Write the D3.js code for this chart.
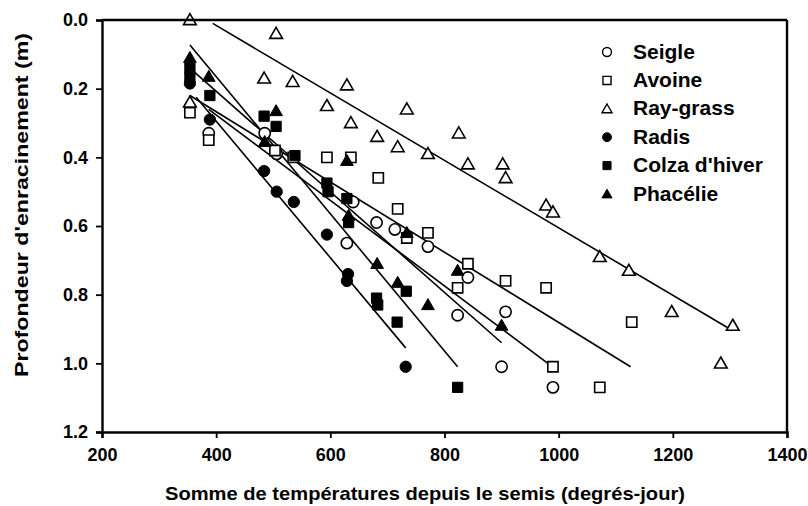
<!DOCTYPE html>
<html>
<head>
<meta charset="utf-8">
<script src="https://cdn.jsdelivr.net/npm/d3@7"></script>
<style>
  html, body { margin: 0; padding: 0; background: #fff; }
  svg { display: block; }
  text { font-family: "Liberation Sans", Arial, sans-serif; font-weight: bold; fill: #000; }
</style>
</head>
<body>
<svg id="chart" width="808" height="506"></svg>
<script>
// Root depth (m) against thermal time since sowing (degree-days)
const tempTicks  = [200, 400, 600, 800, 1000, 1200, 1400];
const depthTicks = [0.0, 0.2, 0.4, 0.6, 0.8, 1.0, 1.2];

const speciesNames = ["Seigle", "Avoine", "Ray-grass", "Radis", "Colza d'hiver", "Phacélie"];

// [degree-days, depth in m]
const seigle = [[387,0.33],[485,0.33],[506,0.39],[640,0.53],[629,0.65],[681,0.59],[713,0.61],
                [771,0.66],[841,0.75],[823,0.86],[907,0.85],[900,1.01],[990,1.07]];
const avoine = [[354,0.27],[387,0.35],[503,0.38],[535,0.40],[594,0.40],[636,0.40],[684,0.46],
                [718,0.55],[734,0.635],[771,0.62],[841,0.71],[823,0.78],[907,0.76],[978,0.78],
                [990,1.01],[1072,1.07],[1128,0.88]];
const raygrass = [[354,0.0],[354,0.24],[505,0.04],[484,0.17],[534,0.18],[629,0.19],[594,0.25],
                  [636,0.30],[682,0.34],[734,0.26],[825,0.33],[718,0.37],[771,0.39],[841,0.42],
                  [902,0.42],[907,0.46],[978,0.54],[990,0.56],[1072,0.69],[1123,0.73],
                  [1198,0.85],[1305,0.89],[1284,1.00]];
const radis = [[354,0.185],[389,0.29],[484,0.44],[506,0.50],[536,0.53],[594,0.625],[631,0.74],
               [629,0.76],[732,1.01]];
const colza = [[354,0.14],[354,0.165],[389,0.22],[484,0.28],[505,0.31],[538,0.395],[594,0.475],
               [596,0.50],[629,0.52],[632,0.59],[681,0.81],[683,0.83],[733,0.79],[717,0.88],
               [823,1.07]];
const phacelie = [[354,0.11],[387,0.165],[505,0.265],[485,0.355],[629,0.41],[632,0.57],[682,0.71],
                  [734,0.62],[718,0.765],[771,0.83],[823,0.73],[900,0.89]];

// fitted lines: [[start degree-days, depth], [end degree-days, depth]]
const seigleFit   = [[387,0.26],[981,1.00]];
const avoineFit   = [[354,0.22],[1126,1.01]];
const raygrassFit = [[394,0.01],[1300,0.90]];
const radisFit    = [[365,0.225],[732,0.955]];
const colzaFit    = [[354,0.073],[823,1.01]];
const phacelieFit = [[354,0.14],[900,0.94]];

const svg = d3.select("#chart");
const plotLeft = 102, plotRight = 787, plotTop = 20, plotBottom = 432;

const x = d3.scaleLinear().domain([200, 1400]).range([plotLeft, plotRight]);
const y = d3.scaleLinear().domain([0, 1.2]).range([plotTop, plotBottom]);

const series = [
  { name: speciesNames[0], pts: seigle,   fit: seigleFit,   shape: d3.symbolCircle,   filled: false },
  { name: speciesNames[1], pts: avoine,   fit: avoineFit,   shape: d3.symbolSquare,   filled: false },
  { name: speciesNames[2], pts: raygrass, fit: raygrassFit, shape: d3.symbolTriangle, filled: false },
  { name: speciesNames[3], pts: radis,    fit: radisFit,    shape: d3.symbolCircle,   filled: true },
  { name: speciesNames[4], pts: colza,    fit: colzaFit,    shape: d3.symbolSquare,   filled: true },
  { name: speciesNames[5], pts: phacelie, fit: phacelieFit, shape: d3.symbolTriangle, filled: true }
];

const markSize = { circle: 100, square: 105, triangle: 70 };
function sizeFor(shape, k) {
  const base = shape === d3.symbolCircle ? markSize.circle
             : shape === d3.symbolSquare ? markSize.square : markSize.triangle;
  return base * k;
}

// fitted lines
const line = d3.line().x(d => x(d[0])).y(d => y(d[1]));
svg.append("g").selectAll("path").data(series).join("path")
  .attr("d", s => line(s.fit))
  .attr("fill", "none").attr("stroke", "#000").attr("stroke-width", 1.6);

// markers
series.forEach(s => {
  svg.append("g").selectAll("path").data(s.pts).join("path")
    .attr("transform", d => `translate(${x(d[0])},${y(d[1]) + (s.shape === d3.symbolTriangle ? 1 : 0)})`)
    .attr("d", d3.symbol().type(s.shape).size(sizeFor(s.shape, 1)))
    .attr("fill", s.filled ? "#000" : "#fff")
    .attr("stroke", "#000")
    .attr("stroke-width", s.filled ? 1 : 1.6);
});

// axes
const xAxis = d3.axisBottom(x).tickValues(tempTicks).tickSize(6).tickPadding(6).tickFormat(d3.format("d"));
const yAxis = d3.axisLeft(y).tickValues(depthTicks).tickSize(6).tickPadding(8).tickFormat(d3.format(".1f"));

const gx = svg.append("g").attr("transform", `translate(0,${plotBottom})`).call(xAxis);
const gy = svg.append("g").attr("transform", `translate(${plotLeft},0)`).call(yAxis);
[gx, gy].forEach(g => {
  g.select(".domain").attr("stroke", "#000").attr("stroke-width", 2.4);
  g.selectAll(".tick line").attr("stroke", "#000").attr("stroke-width", 1.8);
  g.selectAll(".tick text").style("font-size", "18px").style("font-weight", "bold")
    .style("font-family", "'Liberation Sans', Arial, sans-serif").attr("fill", "#000");
});
gx.selectAll(".tick text").attr("dy", "0.95em");

// top and right frame
svg.append("line").attr("x1", plotLeft).attr("x2", plotRight).attr("y1", plotTop).attr("y2", plotTop)
  .attr("stroke", "#000").attr("stroke-width", 2.4);
svg.append("line").attr("x1", plotRight).attr("x2", plotRight).attr("y1", plotTop).attr("y2", plotBottom)
  .attr("stroke", "#000").attr("stroke-width", 2.4);

// axis titles
svg.append("text")
  .attr("x", 425).attr("y", 500).attr("text-anchor", "middle")
  .attr("textLength", 520).attr("lengthAdjust", "spacingAndGlyphs")
  .style("font-size", "19px")
  .text("Somme de températures depuis le semis (degrés-jour)");

svg.append("text")
  .attr("transform", "translate(28,205) rotate(-90)")
  .attr("text-anchor", "middle")
  .attr("textLength", 344).attr("lengthAdjust", "spacingAndGlyphs")
  .style("font-size", "19px")
  .text("Profondeur d'enracinement (m)");

// legend
const legend = svg.append("g").attr("transform", "translate(607,52)");
series.forEach((s, i) => {
  const row = legend.append("g").attr("transform", `translate(0,${i * 28.4})`);
  row.append("path")
    .attr("d", d3.symbol().type(s.shape).size(sizeFor(s.shape, 0.62)))
    .attr("transform", s.shape === d3.symbolTriangle ? "translate(0,1)" : null)
    .attr("fill", s.filled ? "#000" : "#fff")
    .attr("stroke", "#000").attr("stroke-width", s.filled ? 1 : 1.4);
  row.append("text").attr("x", 26).attr("y", 6.5)
    .style("font-size", "21px").text(s.name);
});
</script>
</body>
</html>
